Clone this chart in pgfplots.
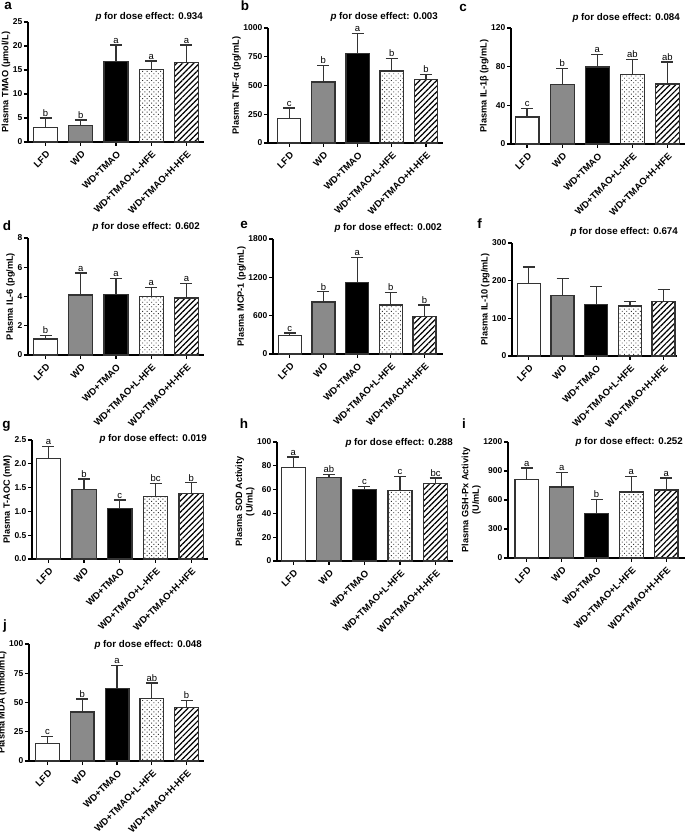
\documentclass[border=0pt]{standalone}
\usepackage{fontspec}
\setmainfont{Liberation Sans}
\usepackage{pgfplots}
\usepackage{pgfplotstable}
\pgfplotsset{compat=1.18}
\usetikzlibrary{patterns.meta}
\definecolor{barline}{HTML}{333333}
\definecolor{wdgray}{HTML}{8A8A8A}

% x = group index, y = mean, e = SD (upper), lab = letter
\pgfplotstableread{
x y e lab
0 3.0 2.0 b
1 3.4 1.2 b
2 16.7 3.5 a
3 15.1 1.8 a
4 16.6 3.6 a
}\tblA
\pgfplotstableread{
x y e lab
0 212 92 c
1 530 145 b
2 780 172 a
3 625 110 b
4 553 45 b
}\tblB
\pgfplotstableread{
x y e lab
0 28.0 9.0 c
1 61.4 16.5 b
2 79.7 12.7 a
3 71.7 15.5 ab
4 62.1 22.7 ab
}\tblC
\pgfplotstableread{
x y e lab
0 1.10 0.23 b
1 4.11 1.49 a
2 4.14 1.09 a
3 3.98 0.64 a
4 3.89 1.00 a
}\tblD
\pgfplotstableread{
x y e lab
0 291 37 c
1 812 161 b
2 1124 390 a
3 765 198 b
4 588 177 b
}\tblE
\pgfplotstableread{
x y e lab
0 192.0 44.5 {}
1 161.5 44.0 {}
2 136.8 46.8 {}
3 132.4 12.3 {}
4 143.9 32.6 {}
}\tblF
\pgfplotstableread{
x y e lab
0 2.11 0.25 a
1 1.46 0.22 b
2 1.06 0.18 c
3 1.32 0.26 bc
4 1.38 0.22 b
}\tblG
\pgfplotstableread{
x y e lab
0 78.7 8.7 a
1 69.9 2.6 ab
2 59.8 2.8 c
3 59.3 11.8 c
4 64.9 4.8 bc
}\tblH
\pgfplotstableread{
x y e lab
0 810 121 a
1 734 152 a
2 462 145 b
3 683 158 a
4 703 125 a
}\tblI
\pgfplotstableread{
x y e lab
0 15.1 5.8 c
1 42.0 10.9 b
2 61.7 20.0 a
3 53.4 13.2 ab
4 45.7 6.3 b
}\tblJ

\pgfplotsset{
  panel/.style={
    scale only axis, anchor=south west, ybar, bar width=0.68, bar shift=0pt,
    axis lines=left, axis line style={-, line width=1.3bp, black},
    xmin=-0.5, xmax=4.5, ymin=0,
    xtick={0,1,2,3,4},
    xticklabels={LFD,WD,WD+TMAO,WD+TMAO+L-HFE,WD+TMAO+H-HFE},
    tick align=outside, major tick length=4bp,
    tick style={line width=1.3bp, black},
    x tick label style={xshift=3.5bp, yshift=-6bp, rotate=45, anchor=east, font=\bfseries\fontsize{9.5}{10}\selectfont, inner sep=1bp},
    y tick label style={font=\bfseries\fontsize{8.5}{9}\selectfont, inner sep=1.5bp},
    ylabel style={font=\bfseries\fontsize{9.2}{10.5}\selectfont, align=center, inner sep=1bp},
    /pgf/number format/assume math mode=true,
    /pgf/number format/1000 sep={},
    clip=false,
    error bars/error bar style={line width=1.3bp, barline},
    error bars/error mark options={rotate=90, mark size=6bp, line width=1.3bp, barline},
  },
  barbase/.style={bar shift=0pt, line width=1.3bp, draw=barline,
    error bars/y dir=plus, error bars/y explicit},
  barA/.style={barbase, fill=white, restrict x to domain=-0.2:0.2},
  barB/.style={barbase, fill=wdgray, restrict x to domain=0.8:1.2},
  barC/.style={barbase, fill=black, restrict x to domain=1.8:2.2},
  barD/.style={barbase, pattern={Dots[distance=3.2bp, radius=0.65bp, angle=45]}, pattern color=black!80, restrict x to domain=2.8:3.2},
  barE/.style={barbase, pattern={Lines[angle=45, distance=4bp, line width=1.2bp]}, pattern color=black, restrict x to domain=3.8:4.2},
}

\newcommand{\drawbars}[1]{%
  \addplot[barA] table[x=x, y=y, y error=e]{#1};
  \addplot[barB] table[x=x, y=y, y error=e]{#1};
  \addplot[barC] table[x=x, y=y, y error=e]{#1};
  \addplot[barD] table[x=x, y=y, y error=e]{#1};
  \addplot[barE] table[x=x, y=y, y error=e]{#1};
}
\newcommand{\drawletters}[1]{%
  \addplot[draw=none, fill=none, bar shift=0pt, nodes near coords,
    point meta=explicit symbolic,
    nodes near coords style={font=\fontsize{9.5}{10}\selectfont, anchor=south, inner sep=1.5bp}]
    table[x=x, y expr=\thisrow{y}+\thisrow{e}, meta=lab]{#1};
}
\newcommand{\ptext}[3]{\node[anchor=east, font=\bfseries\fontsize{9.8}{11}\selectfont, inner sep=0pt] at (#1bp,#2bp) {\textit{p} for dose effect: #3};}
\newcommand{\pletter}[3]{\node[font=\bfseries\fontsize{13.5}{14}\selectfont, inner sep=0pt] at (#1bp,#2bp) {#3};}

\begin{document}
\begin{tikzpicture}
\useasboundingbox (0,0) rectangle (685bp,834bp);
% a
\begin{axis}[panel, at={(28bp,692bp)}, width=176bp, height=120bp, ymax=25, ytick={0,5,10,15,20,25},
  ylabel={Plasma TMAO (μmol/L)}]
\drawbars{\tblA}\drawletters{\tblA}
\end{axis}
% b
\begin{axis}[panel, at={(268bp,691bp)}, width=175bp, height=115bp, xmin=-0.62, ymax=1000, ytick={0,250,500,750,1000},
  ylabel={Plasma TNF-α (pg/mL)}]
\drawbars{\tblB}\drawletters{\tblB}
\end{axis}
% c
\begin{axis}[panel, at={(511bp,690bp)}, width=174bp, height=116bp, xmin=-0.46, ymax=120, ytick={0,40,80,120},
  ylabel={Plasma IL-1β (pg/mL)}]
\drawbars{\tblC}\drawletters{\tblC}
\end{axis}
% d
\begin{axis}[panel, at={(28bp,479bp)}, width=176bp, height=117bp, ymax=8, ytick={0,2,4,6,8},
  ylabel={Plasma IL-6 (pg/mL)}]
\drawbars{\tblD}\drawletters{\tblD}
\end{axis}
% e
\begin{axis}[panel, at={(273bp,480bp)}, width=170bp, height=115bp, xmax=4.55, ymax=1800, ytick={0,600,1200,1800},
  ylabel={Plasma MCP-1 (pg/mL)}]
\drawbars{\tblE}\drawletters{\tblE}
\end{axis}
% f
\begin{axis}[panel, at={(512bp,478bp)}, width=165bp, height=113bp, xmax=4.4, ymax=300, ytick={0,100,200,300},
  ylabel={Plasma IL-10 (pg/mL)}]
\drawbars{\tblF}
\end{axis}
% g
\begin{axis}[panel, at={(32bp,275bp)}, width=176bp, height=119bp, xmin=-0.46, xmax=4.47, ymax=2.5, ytick={0,0.5,1,1.5,2,2.5},
  yticklabel style={/pgf/number format/.cd, fixed, fixed zerofill, precision=1},
  ylabel={Plasma T-AOC (mM)}]
\drawbars{\tblG}\drawletters{\tblG}
\end{axis}
% h
\begin{axis}[panel, at={(277bp,273bp)}, width=176bp, height=119bp, xmin=-0.46, xmax=4.49, ymax=100, ytick={0,20,40,60,80,100},
  ylabel={Plasma SOD Activity\\(U/mL)}]
\drawbars{\tblH}\drawletters{\tblH}
\end{axis}
% i
\begin{axis}[panel, at={(508bp,276bp)}, width=177bp, height=116bp, xmin=-0.54, xmax=4.54, ymax=1200, ytick={0,300,600,900,1200},
  ylabel={Plasma GSH-Px Activity\\(U/mL)}]
\drawbars{\tblI}\drawletters{\tblI}
\end{axis}
% j
\begin{axis}[panel, at={(29bp,73bp)}, width=175bp, height=117bp, xmin=-0.53, ymax=100, ytick={0,25,50,75,100},
  ylabel={Plasma MDA (nmol/mL)}]
\drawbars{\tblJ}\drawletters{\tblJ}
\end{axis}
% p-values
\ptext{203}{817}{0.934}
\ptext{438}{817}{0.003}
\ptext{680}{816}{0.084}
\ptext{200}{607}{0.602}
\ptext{442}{606}{0.002}
\ptext{678}{602}{0.674}
\ptext{207}{395}{0.019}
\ptext{453}{391}{0.288}
\ptext{683}{392}{0.252}
\ptext{202}{189}{0.048}
% panel letters
\pletter{8}{828}{a}
\pletter{245}{828}{b}
\pletter{463}{826}{c}
\pletter{7}{608}{d}
\pletter{244}{609.5}{e}
\pletter{479.5}{610}{f}
\pletter{6.5}{408}{g}
\pletter{244}{410.5}{h}
\pletter{464}{410.5}{i}
\pletter{5}{208}{j}
\end{tikzpicture}
\end{document}
